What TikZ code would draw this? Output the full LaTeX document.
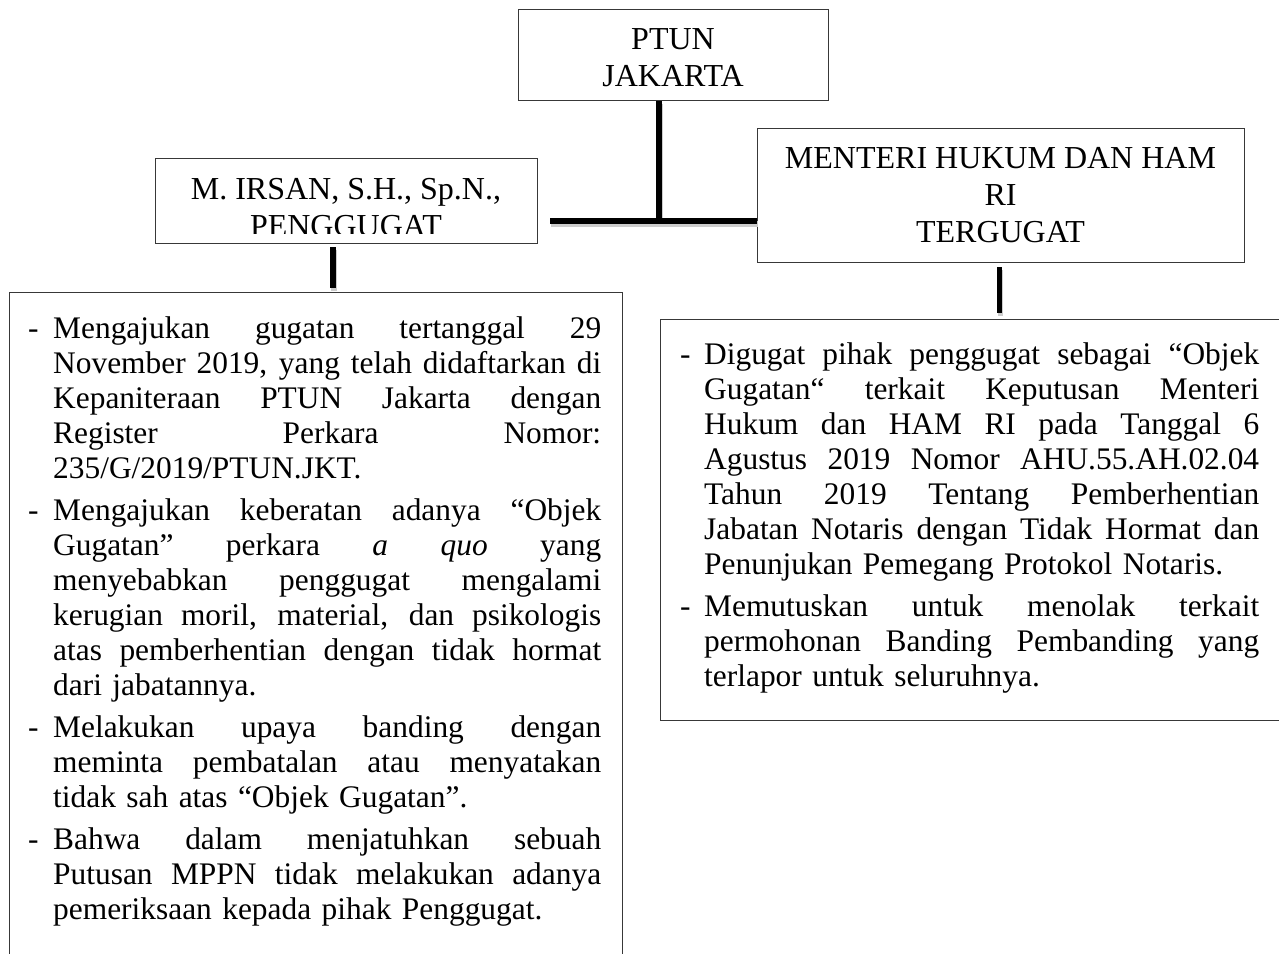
\documentclass[tikz,border=0pt]{standalone}
\usepackage{fontspec}
\setmainfont{Liberation Serif}
\newcommand\myBody{\fontsize{31.4}{35}\selectfont}
\newcommand\myHdr{\fontsize{32}{37}\selectfont}
\newcommand\itm[1]{\par\hangindent=#1\hangafter=1\noindent\makebox[#1][l]{\rule{0pt}{25pt}-}}
\newcommand\jL[1]{\hbox to 548pt{\spaceskip=.25em plus 1fil minus .05em\relax #1}\newline}
\newcommand\jR[1]{\hbox to 555pt{\spaceskip=.25em plus 1fil minus .05em\relax #1}\newline}
\tikzset{
  hbox/.style={draw=black!78, line width=1.4pt, inner sep=0pt, anchor=north west},
  htext/.style={anchor=north, inner sep=0pt, align=center, font=\myHdr},
  btext/.style={anchor=north west, inner sep=0pt, font=\myBody},
  conn/.style={line width=#1, draw=black,
    preaction={draw=black!20, line width=#1, transform canvas={shift={(1pt,-2.5pt)}}}},
  conn/.default=6pt
}
\begin{document}
\begin{tikzpicture}[x=1pt,y=-1pt]
\useasboundingbox (0,0) rectangle (1279,953);
\clip (0,0) rectangle (1279,953);
% header boxes
\node[hbox, minimum width=310pt, minimum height=91pt] (ptun) at (518,9) {};
\node[htext] (ptunt) at (673,24) {\rule{0pt}{25pt}PTUN\\JAKARTA};
\node[hbox, minimum width=382pt, minimum height=85pt] (irsan) at (155,158) {};
\begin{scope}
\clip (156,159) rectangle (536,233);
\node[htext] (irsant) at (346,174) {\rule{0pt}{25pt}M. IRSAN, S.H., Sp.N.,\\PENGGUGAT};
\end{scope}
\node[hbox, minimum width=487pt, minimum height=134pt] (menteri) at (757,128) {};
\node[htext] (mentt) at (1000.5,143) {\rule{0pt}{25pt}MENTERI HUKUM DAN HAM\\RI\\TERGUGAT};
% body boxes
\node[hbox, minimum width=613pt, minimum height=700pt] (leftbox) at (9,292) {};
\node[hbox, minimum width=640pt, minimum height=401pt] (rightbox) at (660,319) {};
% connectors
\coordinate (j) at (659,221);
\coordinate (hl) at (550,221);
\coordinate (lv) at (333,0);
\coordinate (rv) at (999,0);
\draw[conn] (ptun.south -| j) -- ([yshift=-3pt]j);
\draw[conn] (hl) -- (hl -| menteri.west);
\draw[conn=5.5pt] ([yshift=-3pt]irsan.south -| lv) -- ([yshift=4pt]leftbox.north -| lv);
\draw[conn=5pt] ([yshift=-4pt]menteri.south -| rv) -- ([yshift=6pt]rightbox.north -| rv);
% body texts
\node[btext, text width=573pt] (lt) at (28,296.5) {\parskip=7pt
\itm{25pt}\jL{Mengajukan gugatan tertanggal 29}%
\jL{November 2019, yang telah didaftarkan di}%
\jL{Kepaniteraan PTUN Jakarta dengan}%
\jL{Register Perkara Nomor:}%
235/G/2019/PTUN.JKT.
\itm{25pt}\jL{Mengajukan keberatan adanya “Objek}%
\jL{Gugatan” perkara \textit{a quo} yang}%
\jL{menyebabkan penggugat mengalami}%
\jL{kerugian moril, material, dan psikologis}%
\jL{atas pemberhentian dengan tidak hormat}%
dari jabatannya.
\itm{25pt}\jL{Melakukan upaya banding dengan}%
\jL{meminta pembatalan atau menyatakan}%
tidak sah atas “Objek Gugatan”.
\itm{25pt}\jL{Bahwa dalam menjatuhkan sebuah}%
\jL{Putusan MPPN tidak melakukan adanya}%
pemeriksaan kepada pihak Penggugat.\par};
\node[btext, text width=579pt] (rt) at (680,322.5) {\parskip=7pt
\itm{24pt}\jR{Digugat pihak penggugat sebagai “Objek}%
\jR{Gugatan“ terkait Keputusan Menteri}%
\jR{Hukum dan HAM RI pada Tanggal 6}%
\jR{Agustus 2019 Nomor AHU.55.AH.02.04}%
\jR{Tahun 2019 Tentang Pemberhentian}%
\jR{Jabatan Notaris dengan Tidak Hormat dan}%
Penunjukan Pemegang Protokol Notaris.
\itm{24pt}\jR{Memutuskan untuk menolak terkait}%
\jR{permohonan Banding Pembanding yang}%
terlapor untuk seluruhnya.\par};
\end{tikzpicture}
\end{document}
